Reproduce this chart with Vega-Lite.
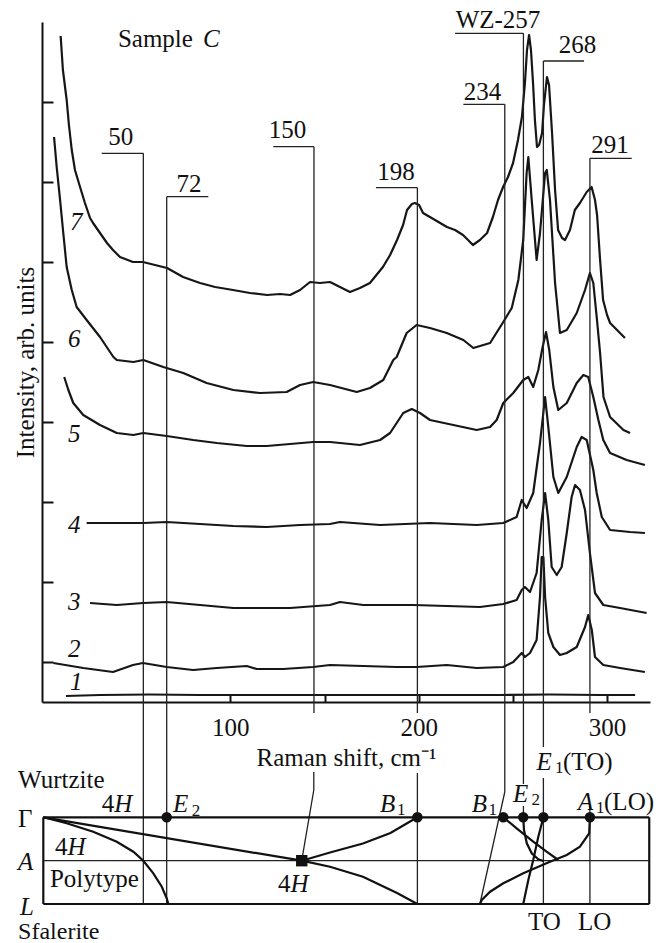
{
  "$schema": "https://vega.github.io/schema/vega-lite/v6.json",
  "width": 608,
  "height": 680,
  "autosize": {"type": "none"},
  "padding": {"left": 42, "top": 22, "right": 11, "bottom": 241},
  "background": "white",
  "config": {
    "view": {"stroke": null},
    "font": "Liberation Serif",
    "axis": {"grid": false, "domainColor": "#111", "domainWidth": 2, "tickColor": "#111", "tickWidth": 2, "labelFont": "Liberation Serif", "titleFont": "Liberation Serif", "labelColor": "#111", "titleColor": "#111", "titleFontWeight": "normal"},
    "text": {"font": "Liberation Serif"}
  },
  "datasets": {
    "spectra": [
      {"c":7,"x":9.9,"y":666},{"c":7,"x":11.1,"y":632},{"c":7,"x":13.1,"y":602},{"c":7,"x":14.3,"y":577},{"c":7,"x":15.8,"y":552},{"c":7,"x":17.5,"y":532},{"c":7,"x":20.2,"y":515},{"c":7,"x":22.8,"y":499},{"c":7,"x":25.5,"y":484},{"c":7,"x":27.1,"y":479},{"c":7,"x":30.8,"y":469},{"c":7,"x":34.5,"y":459},{"c":7,"x":37.7,"y":452},{"c":7,"x":41.4,"y":445},{"c":7,"x":48.3,"y":440},{"c":7,"x":53.6,"y":440},{"c":7,"x":60.0,"y":437},{"c":7,"x":66.4,"y":434},{"c":7,"x":74.9,"y":425},{"c":7,"x":83.9,"y":419},{"c":7,"x":91.9,"y":415},{"c":7,"x":101.4,"y":412},{"c":7,"x":110.4,"y":409},{"c":7,"x":119.5,"y":407},{"c":7,"x":126.4,"y":408},{"c":7,"x":131.7,"y":407},{"c":7,"x":137.0,"y":412},{"c":7,"x":142.3,"y":420},{"c":7,"x":147.6,"y":419},{"c":7,"x":152.9,"y":420},{"c":7,"x":158.2,"y":415},{"c":7,"x":163.5,"y":410},{"c":7,"x":168.8,"y":414},{"c":7,"x":174.1,"y":419},{"c":7,"x":181.0,"y":435},{"c":7,"x":184.8,"y":447},{"c":7,"x":188.5,"y":462},{"c":7,"x":191.7,"y":477},{"c":7,"x":193.8,"y":492},{"c":7,"x":196.4,"y":498},{"c":7,"x":198.0,"y":499},{"c":7,"x":200.2,"y":497},{"c":7,"x":202.3,"y":489},{"c":7,"x":208.7,"y":482},{"c":7,"x":215.0,"y":475},{"c":7,"x":219.3,"y":472},{"c":7,"x":223.5,"y":467},{"c":7,"x":226.2,"y":462},{"c":7,"x":228.8,"y":457},{"c":7,"x":232.5,"y":462},{"c":7,"x":236.3,"y":469},{"c":7,"x":239.4,"y":485},{"c":7,"x":242.1,"y":502},{"c":7,"x":244.8,"y":515},{"c":7,"x":247.4,"y":525},{"c":7,"x":250.1,"y":539},{"c":7,"x":252.7,"y":562},{"c":7,"x":254.8,"y":585},{"c":7,"x":256.4,"y":619},{"c":7,"x":257.5,"y":652},{"c":7,"x":258.6,"y":667},{"c":7,"x":259.6,"y":652},{"c":7,"x":260.7,"y":619},{"c":7,"x":261.7,"y":582},{"c":7,"x":262.8,"y":555},{"c":7,"x":263.9,"y":557},{"c":7,"x":265.5,"y":569},{"c":7,"x":266.5,"y":597},{"c":7,"x":268.1,"y":625},{"c":7,"x":269.2,"y":617},{"c":7,"x":270.8,"y":569},{"c":7,"x":272.4,"y":512},{"c":7,"x":274.0,"y":472},{"c":7,"x":276.1,"y":464},{"c":7,"x":277.7,"y":462},{"c":7,"x":280.3,"y":472},{"c":7,"x":282.9,"y":492},{"c":7,"x":285.6,"y":499},{"c":7,"x":289.2,"y":510},{"c":7,"x":291.8,"y":515},{"c":7,"x":293.6,"y":502},{"c":7,"x":294.7,"y":487},{"c":7,"x":296.3,"y":442},{"c":7,"x":297.9,"y":402},{"c":7,"x":300.0,"y":387},{"c":7,"x":301.6,"y":379},{"c":7,"x":305.3,"y":372},{"c":7,"x":309.5,"y":364},
      {"c":6,"x":6.4,"y":565},{"c":6,"x":7.8,"y":535},{"c":6,"x":9.6,"y":502},{"c":6,"x":11.3,"y":469},{"c":6,"x":13.1,"y":435},{"c":6,"x":15.8,"y":412},{"c":6,"x":18.4,"y":395},{"c":6,"x":23.7,"y":382},{"c":6,"x":30.8,"y":365},{"c":6,"x":37.9,"y":345},{"c":6,"x":39.7,"y":342},{"c":6,"x":48.5,"y":340},{"c":6,"x":53.8,"y":342},{"c":6,"x":64.4,"y":335},{"c":6,"x":75.0,"y":329},{"c":6,"x":87.4,"y":319},{"c":6,"x":101.6,"y":312},{"c":6,"x":115.7,"y":309},{"c":6,"x":129.9,"y":310},{"c":6,"x":137.0,"y":317},{"c":6,"x":144.0,"y":320},{"c":6,"x":152.9,"y":317},{"c":6,"x":167.1,"y":310},{"c":6,"x":174.1,"y":314},{"c":6,"x":181.2,"y":322},{"c":6,"x":186.5,"y":342},{"c":6,"x":188.3,"y":345},{"c":6,"x":193.6,"y":369},{"c":6,"x":198.9,"y":377},{"c":6,"x":206.0,"y":374},{"c":6,"x":214.9,"y":369},{"c":6,"x":223.7,"y":362},{"c":6,"x":229.0,"y":354},{"c":6,"x":237.9,"y":359},{"c":6,"x":244.9,"y":380},{"c":6,"x":249.4,"y":394},{"c":6,"x":252.9,"y":422},{"c":6,"x":255.5,"y":462},{"c":6,"x":257.3,"y":529},{"c":6,"x":258.2,"y":545},{"c":6,"x":260.0,"y":502},{"c":6,"x":262.6,"y":442},{"c":6,"x":264.4,"y":469},{"c":6,"x":267.1,"y":529},{"c":6,"x":268.0,"y":532},{"c":6,"x":269.7,"y":502},{"c":6,"x":272.4,"y":419},{"c":6,"x":275.0,"y":369},{"c":6,"x":278.6,"y":372},{"c":6,"x":283.9,"y":389},{"c":6,"x":288.3,"y":412},{"c":6,"x":290.9,"y":429},{"c":6,"x":292.7,"y":419},{"c":6,"x":294.5,"y":385},{"c":6,"x":296.3,"y":349},{"c":6,"x":298.1,"y":305},{"c":6,"x":301.6,"y":285},{"c":6,"x":308.7,"y":272},{"c":6,"x":312.2,"y":269},
      {"c":5,"x":11.8,"y":325},{"c":5,"x":14.0,"y":312},{"c":5,"x":16.6,"y":299},{"c":5,"x":21.9,"y":287},{"c":5,"x":30.8,"y":277},{"c":5,"x":39.7,"y":269},{"c":5,"x":48.5,"y":267},{"c":5,"x":53.8,"y":269},{"c":5,"x":66.2,"y":266},{"c":5,"x":80.3,"y":262},{"c":5,"x":92.8,"y":259},{"c":5,"x":108.7,"y":256},{"c":5,"x":119.3,"y":256},{"c":5,"x":131.7,"y":258},{"c":5,"x":144.0,"y":260},{"c":5,"x":152.9,"y":260},{"c":5,"x":168.8,"y":257},{"c":5,"x":179.5,"y":262},{"c":5,"x":184.8,"y":269},{"c":5,"x":191.8,"y":289},{"c":5,"x":196.3,"y":293},{"c":5,"x":200.7,"y":289},{"c":5,"x":206.0,"y":282},{"c":5,"x":218.4,"y":277},{"c":5,"x":230.8,"y":272},{"c":5,"x":237.9,"y":275},{"c":5,"x":241.4,"y":282},{"c":5,"x":244.9,"y":299},{"c":5,"x":250.2,"y":309},{"c":5,"x":255.5,"y":322},{"c":5,"x":258.2,"y":325},{"c":5,"x":260.8,"y":315},{"c":5,"x":263.5,"y":332},{"c":5,"x":265.8,"y":355},{"c":5,"x":267.6,"y":370},{"c":5,"x":269.3,"y":352},{"c":5,"x":271.5,"y":315},{"c":5,"x":274.1,"y":292},{"c":5,"x":278.6,"y":299},{"c":5,"x":283.9,"y":319},{"c":5,"x":287.4,"y":327},{"c":5,"x":290.0,"y":325},{"c":5,"x":292.7,"y":305},{"c":5,"x":295.4,"y":282},{"c":5,"x":298.0,"y":262},{"c":5,"x":301.6,"y":249},{"c":5,"x":310.4,"y":242},{"c":5,"x":320.1,"y":237},
      {"c":4,"x":23.7,"y":179},{"c":4,"x":39.7,"y":179},{"c":4,"x":53.8,"y":179},{"c":4,"x":66.2,"y":180},{"c":4,"x":83.9,"y":178},{"c":4,"x":101.6,"y":176},{"c":4,"x":119.3,"y":175},{"c":4,"x":137.0,"y":177},{"c":4,"x":152.9,"y":178},{"c":4,"x":158.2,"y":180},{"c":4,"x":179.5,"y":177},{"c":4,"x":206.0,"y":179},{"c":4,"x":230.8,"y":177},{"c":4,"x":244.9,"y":179},{"c":4,"x":252.0,"y":185},{"c":4,"x":254.7,"y":202},{"c":4,"x":257.3,"y":194},{"c":4,"x":260.8,"y":209},{"c":4,"x":264.4,"y":259},{"c":4,"x":267.1,"y":305},{"c":4,"x":268.8,"y":275},{"c":4,"x":271.5,"y":225},{"c":4,"x":274.1,"y":209},{"c":4,"x":278.6,"y":225},{"c":4,"x":283.9,"y":255},{"c":4,"x":286.5,"y":265},{"c":4,"x":289.2,"y":262},{"c":4,"x":292.7,"y":232},{"c":4,"x":294.5,"y":209},{"c":4,"x":297.2,"y":185},{"c":4,"x":301.6,"y":172},{"c":4,"x":312.2,"y":170},{"c":4,"x":320.1,"y":169},
      {"c":3,"x":25.5,"y":99},{"c":3,"x":39.7,"y":97},{"c":3,"x":53.8,"y":99},{"c":3,"x":66.2,"y":100},{"c":3,"x":83.9,"y":97},{"c":3,"x":101.6,"y":94},{"c":3,"x":119.3,"y":94},{"c":3,"x":131.7,"y":94},{"c":3,"x":152.9,"y":97},{"c":3,"x":158.2,"y":100},{"c":3,"x":170.6,"y":97},{"c":3,"x":197.1,"y":97},{"c":3,"x":214.9,"y":96},{"c":3,"x":232.5,"y":95},{"c":3,"x":244.9,"y":98},{"c":3,"x":252.0,"y":102},{"c":3,"x":254.7,"y":112},{"c":3,"x":256.4,"y":115},{"c":3,"x":259.1,"y":110},{"c":3,"x":262.6,"y":129},{"c":3,"x":265.3,"y":182},{"c":3,"x":267.1,"y":209},{"c":3,"x":268.8,"y":182},{"c":3,"x":270.6,"y":135},{"c":3,"x":273.3,"y":127},{"c":3,"x":275.9,"y":135},{"c":3,"x":278.6,"y":169},{"c":3,"x":281.2,"y":205},{"c":3,"x":283.0,"y":217},{"c":3,"x":285.6,"y":212},{"c":3,"x":288.3,"y":192},{"c":3,"x":290.9,"y":149},{"c":3,"x":293.6,"y":109},{"c":3,"x":298.0,"y":97},{"c":3,"x":306.9,"y":94},{"c":3,"x":321.0,"y":89},
      {"c":2,"x":6.0,"y":39},{"c":2,"x":21.9,"y":34},{"c":2,"x":37.7,"y":30},{"c":2,"x":48.3,"y":37},{"c":2,"x":53.6,"y":39},{"c":2,"x":66.2,"y":35},{"c":2,"x":80.2,"y":32},{"c":2,"x":92.8,"y":34},{"c":2,"x":108.7,"y":36},{"c":2,"x":114.0,"y":33},{"c":2,"x":128.0,"y":33},{"c":2,"x":143.9,"y":35},{"c":2,"x":152.9,"y":37},{"c":2,"x":170.4,"y":36},{"c":2,"x":188.3,"y":35},{"c":2,"x":198.9,"y":35},{"c":2,"x":214.9,"y":37},{"c":2,"x":230.8,"y":34},{"c":2,"x":244.9,"y":35},{"c":2,"x":250.2,"y":40},{"c":2,"x":254.7,"y":49},{"c":2,"x":256.4,"y":45},{"c":2,"x":259.1,"y":49},{"c":2,"x":262.6,"y":62},{"c":2,"x":264.4,"y":105},{"c":2,"x":265.3,"y":145},{"c":2,"x":266.2,"y":145},{"c":2,"x":267.1,"y":105},{"c":2,"x":268.8,"y":69},{"c":2,"x":271.5,"y":55},{"c":2,"x":275.0,"y":47},{"c":2,"x":278.6,"y":49},{"c":2,"x":283.9,"y":55},{"c":2,"x":288.3,"y":75},{"c":2,"x":290.0,"y":87},{"c":2,"x":291.9,"y":72},{"c":2,"x":293.6,"y":45},{"c":2,"x":298.0,"y":37},{"c":2,"x":306.9,"y":34},{"c":2,"x":320.1,"y":30},
      {"c":1,"x":12.7,"y":6},{"c":1,"x":30.8,"y":7},{"c":1,"x":57.3,"y":7.5},{"c":1,"x":83.9,"y":7},{"c":1,"x":137.0,"y":7},{"c":1,"x":190.1,"y":7},{"c":1,"x":243.2,"y":7},{"c":1,"x":269.7,"y":7.5},{"c":1,"x":296.3,"y":7},{"c":1,"x":314.9,"y":7}
    ],
    "rules": [
      {"kind":"leader","x":31.7,"x2":53.8,"y":548.7,"y2":548.7},
      {"kind":"leader","x":66.2,"x2":88.3,"y":505.3,"y2":505.3},
      {"kind":"leader","x":122.8,"x2":144.4,"y":555.3,"y2":555.3},
      {"kind":"leader","x":177.3,"x2":199.3,"y":514.3,"y2":514.3},
      {"kind":"leader","x":223.7,"x2":245.7,"y":597.7,"y2":597.7},
      {"kind":"leader","x":219.3,"x2":255.6,"y":668.7,"y2":668.7},
      {"kind":"leader","x":266.2,"x2":287.8,"y":641,"y2":641},
      {"kind":"leader","x":290.9,"x2":313.1,"y":543.7,"y2":543.7},
      {"kind":"leader","x":53.8,"x2":53.8,"y":548.7,"y2":-202},
      {"kind":"leader","x":66.2,"x2":66.2,"y":505.3,"y2":-202},
      {"kind":"leader","x":144.4,"x2":144.4,"y":555.3,"y2":-11},
      {"kind":"leader","x":144.3,"x2":144.3,"y":-70,"y2":-88},
      {"kind":"leader","x":144.3,"x2":137.9,"y":-88,"y2":-158.7},
      {"kind":"leader","x":199.3,"x2":199.3,"y":514.3,"y2":-11},
      {"kind":"leader","x":199.3,"x2":199.3,"y":-71,"y2":-202},
      {"kind":"leader","x":245.7,"x2":245.7,"y":597.7,"y2":-90},
      {"kind":"leader","x":245.7,"x2":232.5,"y":-90,"y2":-202},
      {"kind":"leader","x":255.6,"x2":255.6,"y":668.7,"y2":-82},
      {"kind":"leader","x":255.6,"x2":255.6,"y":-104,"y2":-115.3},
      {"kind":"leader","x":266.2,"x2":266.2,"y":641,"y2":-45},
      {"kind":"leader","x":266.2,"x2":266.2,"y":-76,"y2":-202},
      {"kind":"leader","x":290.9,"x2":290.9,"y":543.7,"y2":-11},
      {"kind":"leader","x":290.9,"x2":290.9,"y":-104,"y2":-202},
      {"kind":"frame","x":0.7,"x2":322.4,"y":-115.3,"y2":-115.3},
      {"kind":"frame","x":0.7,"x2":322.4,"y":-202,"y2":-202},
      {"kind":"frame","x":0.7,"x2":0.7,"y":-115.3,"y2":-202},
      {"kind":"frame","x":322.4,"x2":322.4,"y":-115.3,"y2":-202},
      {"kind":"level","x":0.7,"x2":322.4,"y":-158.7,"y2":-158.7}
    ],
    "branches": [
      {"b":"a","o":1,"x":0.7,"y":-115.3},{"b":"a","o":2,"x":13.1,"y":-121.3},{"b":"a","o":3,"x":27.2,"y":-129.7},{"b":"a","o":4,"x":39.7,"y":-139.7},{"b":"a","o":5,"x":48.5,"y":-149.7},{"b":"a","o":6,"x":53.8,"y":-158.7},{"b":"a","o":7,"x":59.1,"y":-171.3},{"b":"a","o":8,"x":63.6,"y":-184.7},{"b":"a","o":9,"x":66.2,"y":-196.3},{"b":"a","o":10,"x":67.1,"y":-202},
      {"b":"f","o":1,"x":0.7,"y":-115.3},{"b":"f","o":2,"x":137.9,"y":-158.7},
      {"b":"u","o":1,"x":137.9,"y":-158.7},{"b":"u","o":2,"x":152.9,"y":-150.5},{"b":"u","o":3,"x":170.4,"y":-141.5},{"b":"u","o":4,"x":185,"y":-131},{"b":"u","o":5,"x":199.3,"y":-115.3},
      {"b":"d","o":1,"x":137.9,"y":-158.7},{"b":"d","o":2,"x":152.9,"y":-164.7},{"b":"d","o":3,"x":170.4,"y":-174.7},{"b":"d","o":4,"x":188.5,"y":-191},{"b":"d","o":5,"x":199.3,"y":-202},
      {"b":"b1","o":1,"x":244.9,"y":-115.3},{"b":"b1","o":2,"x":252.0,"y":-126.3},{"b":"b1","o":3,"x":260.8,"y":-139.7},{"b":"b1","o":4,"x":267.9,"y":-149.7},{"b":"b1","o":5,"x":274.1,"y":-158},
      {"b":"e2","o":1,"x":255.5,"y":-115.3},{"b":"e2","o":2,"x":255.9,"y":-128},{"b":"e2","o":3,"x":257.4,"y":-141.3},{"b":"e2","o":4,"x":260.0,"y":-151.3},{"b":"e2","o":5,"x":263.5,"y":-157.3},{"b":"e2","o":6,"x":266.2,"y":-159},
      {"b":"e1","o":1,"x":266.2,"y":-115.3},{"b":"e1","o":2,"x":263.5,"y":-134.7},{"b":"e1","o":3,"x":260.8,"y":-158},{"b":"e1","o":4,"x":258.2,"y":-178},{"b":"e1","o":5,"x":255.5,"y":-202},
      {"b":"a1","o":1,"x":290.9,"y":-115.3},{"b":"a1","o":2,"x":290.5,"y":-131.3},{"b":"a1","o":3,"x":285.6,"y":-144.7},{"b":"a1","o":4,"x":278.6,"y":-153},{"b":"a1","o":5,"x":269.7,"y":-159.7},{"b":"a1","o":6,"x":255.5,"y":-171.3},{"b":"a1","o":7,"x":244.9,"y":-181.3},{"b":"a1","o":8,"x":237.9,"y":-189.7},{"b":"a1","o":9,"x":233.5,"y":-198},{"b":"a1","o":10,"x":232.5,"y":-202}
    ],
    "modes": [
      {"m":"E2","x":66.2,"y":-115.3},{"m":"B1","x":199.3,"y":-115.3},{"m":"B1s","x":244.9,"y":-115.3},{"m":"E2s","x":255.5,"y":-115.3},{"m":"E1","x":266.2,"y":-115.3},{"m":"A1","x":290.9,"y":-115.3}
    ],
    "polytype": [{"m":"4H","x":137.9,"y":-158.7}],
    "labels": [
      {"role":"peak","t":"50","x":41.8,"y":557},{"role":"peak","t":"72","x":78.0,"y":510},{"role":"peak","t":"150","x":130.3,"y":564},{"role":"peak","t":"198","x":187.9,"y":522},{"role":"peak","t":"234","x":233.9,"y":602},{"role":"peak","t":"WZ-257","x":242.1,"y":674},{"role":"peak","t":"268","x":284.3,"y":649},{"role":"peak","t":"291","x":301.6,"y":549},
      {"role":"name","t":"Sample","x":40.3,"y":655},{"role":"name","t":"Wurtzite","x":-12.7,"y":-86},{"role":"name","t":"Polytype","x":4.2,"y":-185},{"role":"name","t":"Γ","x":-12.7,"y":-124.7},
      {"role":"name","t":"4","x":31.7,"y":-109.7},{"role":"name","t":"4","x":6.9,"y":-153},{"role":"name","t":"4","x":125.3,"y":-189.7},
      {"role":"name","t":"(TO)","x":276.6,"y":-68},{"role":"name","t":"(LO)","x":298.4,"y":-108},{"role":"name","t":"TO","x":258.0,"y":-228},{"role":"name","t":"LO","x":284.6,"y":-228},
      {"role":"foot","t":"Sfalerite","x":-12.7,"y":-237},
      {"role":"symbol","t":"C","x":85.5,"y":655},
      {"role":"symbol","t":"7","x":14.9,"y":472},{"role":"symbol","t":"6","x":13.8,"y":355},{"role":"symbol","t":"5","x":13.8,"y":260},{"role":"symbol","t":"4","x":13.8,"y":169},{"role":"symbol","t":"3","x":13.8,"y":92},{"role":"symbol","t":"2","x":13.8,"y":45},{"role":"symbol","t":"1","x":14.9,"y":12},
      {"role":"symbol","t":"H","x":38.3,"y":-109.7},{"role":"symbol","t":"H","x":13.5,"y":-153},{"role":"symbol","t":"H","x":131.9,"y":-189.7},
      {"role":"symbol","t":"E","x":69.6,"y":-109.7},{"role":"symbol","t":"A","x":-12.7,"y":-168},{"role":"symbol","t":"L","x":-11.7,"y":-213},
      {"role":"symbol","t":"B","x":179.5,"y":-109.7},{"role":"symbol","t":"B","x":228.1,"y":-109.7},{"role":"symbol","t":"E","x":250.1,"y":-99.7},{"role":"symbol","t":"E","x":262.6,"y":-68},{"role":"symbol","t":"A","x":284.6,"y":-108},
      {"role":"index","t":"2","x":79.5,"y":-114},{"role":"index","t":"1","x":188.5,"y":-113},{"role":"index","t":"1","x":237.1,"y":-113},{"role":"index","t":"2","x":259.9,"y":-103},{"role":"index","t":"1","x":272.4,"y":-71},{"role":"index","t":"1","x":294.1,"y":-111}
    ]
  },
  "encoding": {
    "x": {"field": "x", "type": "quantitative", "scale": {"domain": [0, 322.8], "nice": false, "zero": false},
      "axis": {"values": [100, 150, 200, 250, 300], "labelExpr": "datum.value % 100 === 0 ? datum.label : ''", "tickSize": -7, "labelPadding": 40, "labelBaseline": "alphabetic", "labelFontSize": 25, "labelFlush": false, "labelOverlap": false,
        "title": "Raman shift, cm⁻¹", "titleFontSize": 25, "titleX": 304, "titleY": 63, "titleAlign": "center", "titleBaseline": "alphabetic"}},
    "y": {"field": "y", "type": "quantitative", "scale": {"domain": [0, 680], "nice": false, "zero": false},
      "axis": {"values": [40, 120, 200, 280, 360, 440, 520, 600], "labels": false, "tickSize": -11,
        "title": "Intensity, arb. units", "titleFontSize": 25, "titleX": -9, "titleY": 340, "titleAngle": 270, "titleAlign": "center", "titleBaseline": "alphabetic"}}
  },
  "layer": [
    {"data": {"name": "spectra"}, "mark": {"type": "line", "color": "#161616", "strokeWidth": 2.2, "strokeJoin": "round"}, "encoding": {"detail": {"field": "c"}}},
    {"data": {"name": "rules"}, "transform": [{"filter": "datum.kind === 'leader'"}], "mark": {"type": "rule", "color": "#222", "strokeWidth": 1.3}, "encoding": {"x2": {"field": "x2"}, "y2": {"field": "y2"}}},
    {"data": {"name": "rules"}, "transform": [{"filter": "datum.kind === 'frame'"}], "mark": {"type": "rule", "color": "#111", "strokeWidth": 2.2}, "encoding": {"x2": {"field": "x2"}, "y2": {"field": "y2"}}},
    {"data": {"name": "rules"}, "transform": [{"filter": "datum.kind === 'level'"}], "mark": {"type": "rule", "color": "#222", "strokeWidth": 1.3}, "encoding": {"x2": {"field": "x2"}, "y2": {"field": "y2"}}},
    {"data": {"name": "branches"}, "mark": {"type": "line", "color": "#111", "strokeWidth": 2.2}, "encoding": {"detail": {"field": "b"}, "order": {"field": "o", "type": "quantitative"}}},
    {"data": {"name": "modes"}, "mark": {"type": "point", "shape": "circle", "filled": true, "color": "#111", "size": 110, "opacity": 1}},
    {"data": {"name": "polytype"}, "mark": {"type": "point", "shape": "square", "filled": true, "color": "#111", "size": 130, "opacity": 1}},
    {"data": {"name": "labels"}, "transform": [{"filter": "datum.role === 'peak'"}], "mark": {"type": "text", "font": "Liberation Serif", "fontSize": 25, "align": "center", "baseline": "alphabetic", "color": "#111"}, "encoding": {"text": {"field": "t"}}},
    {"data": {"name": "labels"}, "transform": [{"filter": "datum.role === 'name'"}], "mark": {"type": "text", "font": "Liberation Serif", "fontSize": 25, "align": "left", "baseline": "alphabetic", "color": "#111"}, "encoding": {"text": {"field": "t"}}},
    {"data": {"name": "labels"}, "transform": [{"filter": "datum.role === 'foot'"}], "mark": {"type": "text", "font": "Liberation Serif", "fontSize": 24, "align": "left", "baseline": "alphabetic", "color": "#111"}, "encoding": {"text": {"field": "t"}}},
    {"data": {"name": "labels"}, "transform": [{"filter": "datum.role === 'symbol'"}], "mark": {"type": "text", "font": "Liberation Serif", "fontSize": 25, "fontStyle": "italic", "align": "left", "baseline": "alphabetic", "color": "#111"}, "encoding": {"text": {"field": "t"}}},
    {"data": {"name": "labels"}, "transform": [{"filter": "datum.role === 'index'"}], "mark": {"type": "text", "font": "Liberation Serif", "fontSize": 17, "align": "left", "baseline": "alphabetic", "color": "#111"}, "encoding": {"text": {"field": "t"}}}
  ]
}
